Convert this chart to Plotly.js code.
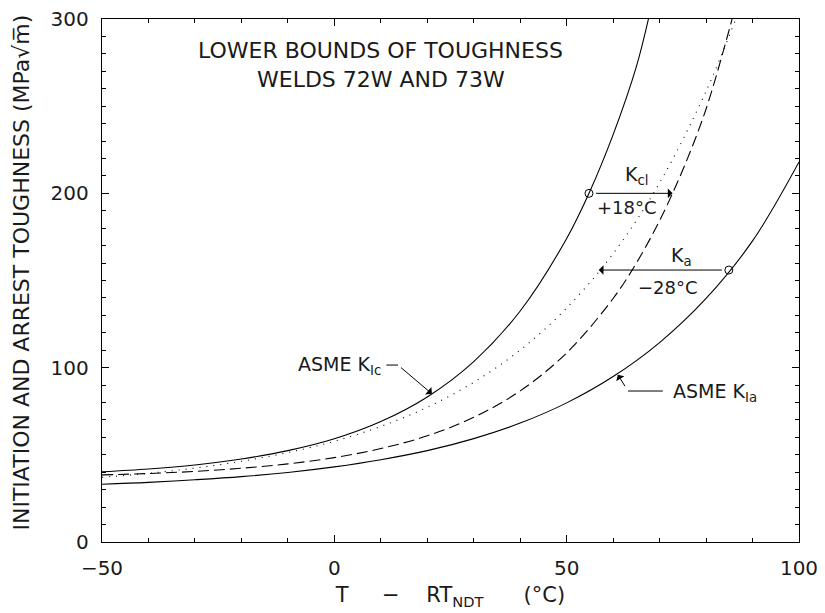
<!DOCTYPE html>
<html>
<head>
<meta charset="utf-8">
<script src="https://cdn.plot.ly/plotly-3.0.1.min.js"></script>
<style>html,body{margin:0;padding:0;background:#fff;}#chart{width:825px;height:613px;}</style>
</head>
<body>
<div id="chart"></div>
<script>
// ASME K_Ic (upper solid)
const kIcT = [-50, -40, -30, -20, -10, 0, 10, 20, 30, 40, 50, 55, 60, 65, 67.6];
const kIcV = [40.3, 41.9, 44.2, 47.6, 52.4, 59.2, 69.1, 83.2, 103.5, 132.5, 174.1, 201.2, 233.7, 272.7, 300];
// Lower bound K_cl, welds 72W/73W (dashed)
const kclT = [-50, -40, -30, -20, -10, 0, 10, 20, 30, 40, 50, 60, 65, 70, 75, 80, 85.6];
const kclV = [38.5, 39.3, 40.5, 42.3, 44.8, 48.4, 53.6, 60.9, 71.5, 86.7, 108.5, 139.7, 160.0, 184.4, 213.5, 248.4, 300];
// Lower bound K_a, welds 72W/73W (dotted)
const kaT = [-50, -40, -30, -20, -10, 0, 10, 20, 30, 40, 50, 60, 70, 80, 86.4];
const kaV = [37.1, 39.4, 42.4, 46.3, 51.3, 57.8, 66.3, 77.3, 91.6, 110.1, 134.2, 165.4, 206.0, 258.6, 300];
// ASME K_Ia (lower solid)
const kIaT = [-50, -40, -30, -20, -10, 0, 10, 20, 30, 40, 50, 60, 70, 80, 90, 100];
const kIaV = [33.1, 34.2, 35.7, 37.5, 39.9, 43.1, 47.2, 52.4, 59.3, 68.2, 79.8, 94.9, 114.4, 139.7, 172.7, 218];
// Shift points (open circles) and temperature shifts
const shiftT = [54.8, 84.9];
const shiftV = [200, 156];
const shiftDT = [18, -28];
const shiftLabels = ['+18°C', '\u221228°C'];
const shiftNames = ['K<sub>cl</sub>', 'K<sub>a</sub>'];
// Axis ticks
const xTicks = [-50, 0, 50, 100];
const yTicks = [0, 100, 200, 300];

const FONT = 'DejaVu Sans';
const INK = '#1a1a1a';
const NB = n => '\u00A0'.repeat(n);

const line = (x, y, dash) => ({
  x: x, y: y, type: 'scatter', mode: 'lines',
  line: {color: '#000', width: 1.1, shape: 'spline', smoothing: 1, dash: dash},
  hoverinfo: 'skip', showlegend: false
});

const traces = [
  line(kIcT, kIcV, 'solid'),
  line(kclT, kclV, '11px,5px'),
  line(kaT, kaV, '1px,6px'),
  line(kIaT, kIaV, 'solid'),
  {x: shiftT, y: shiftV, type: 'scatter', mode: 'markers',
   marker: {symbol: 'circle-open', size: 8, color: '#000', line: {width: 1}},
   hoverinfo: 'skip', showlegend: false}
];

const annotations = [];
const shapes = [];
const txt = (x, y, text, size, extra) => Object.assign({
  x: x, y: y, xref: 'x', yref: 'y', text: text, showarrow: false,
  font: {family: FONT, size: size, color: INK}, xanchor: 'center', yanchor: 'middle'
}, extra || {});

annotations.push(txt(10, 282, 'LOWER BOUNDS OF TOUGHNESS', 22));
annotations.push(txt(10, 265.5, 'WELDS 72W AND 73W', 22));

// shift arrows
for (let i = 0; i < shiftT.length; i++) {
  annotations.push({
    x: shiftT[i] + shiftDT[i], y: shiftV[i], xref: 'x', yref: 'y',
    ax: shiftT[i], ay: shiftV[i], axref: 'x', ayref: 'y',
    text: ' ', showarrow: true, arrowhead: 1, arrowsize: 1.6, arrowwidth: 1,
    arrowcolor: '#000', startstandoff: 4
  });
}
annotations.push(txt(65.1, 210, shiftNames[0], 19));
annotations.push(txt(63.0, 192, shiftLabels[0], 18));
annotations.push(txt(74.8, 163.5, shiftNames[1], 19));
annotations.push(txt(71.8, 146, shiftLabels[1], 18));

// ASME K_Ic label with leader
annotations.push(txt(10.5, 101.5, 'ASME K<sub>Ic</sub>', 19, {xanchor: 'right'}));
shapes.push({type: 'line', xref: 'x', yref: 'y', x0: 11.2, x1: 13.7, y0: 101.5, y1: 101.5, line: {color: '#000', width: 1}});
annotations.push({x: 21, y: 85, xref: 'x', yref: 'y', ax: 13.7, ay: 101.5, axref: 'x', ayref: 'y',
  text: ' ', showarrow: true, arrowhead: 1, arrowsize: 1.6, arrowwidth: 1, arrowcolor: '#000'});

// ASME K_Ia label with leader
annotations.push(txt(72.5, 86, 'ASME K<sub>Ia</sub>', 19, {xanchor: 'left'}));
shapes.push({type: 'line', xref: 'x', yref: 'y', x0: 63.2, x1: 70.7, y0: 86.6, y1: 86.6, line: {color: '#000', width: 1}});
annotations.push({x: 61.0, y: 96, xref: 'x', yref: 'y', ax: 63.2, ay: 86.6, axref: 'x', ayref: 'y',
  text: ' ', showarrow: true, arrowhead: 1, arrowsize: 1.6, arrowwidth: 1, arrowcolor: '#000'});

// y-axis title
annotations.push({
  xref: 'paper', yref: 'paper', x: -0.115, y: 0.515, textangle: -90,
  text: 'INITIATION AND ARREST TOUGHNESS (MPa\u221Am\u0305)', showarrow: false,
  font: {family: FONT, size: 22, color: INK}, xanchor: 'center', yanchor: 'middle'
});

const axisCommon = {
  showline: true, linecolor: '#000', linewidth: 1.2, mirror: 'ticks',
  ticks: 'inside', ticklen: 7, tickwidth: 1, tickcolor: '#000',
  showgrid: false, zeroline: false, fixedrange: true,
  tickfont: {family: FONT, size: 20, color: INK},
  ticklabelstandoff: 8,
  minor: {ticks: 'inside', ticklen: 4, tickwidth: 1, tickcolor: '#000', dtick: 10, showgrid: false}
};

const layout = {
  width: 825, height: 613,
  margin: {l: 102, r: 26, t: 19, b: 71},
  paper_bgcolor: '#fff', plot_bgcolor: '#fff',
  showlegend: false,
  xaxis: Object.assign({}, axisCommon, {
    range: [-50, 100], tickvals: xTicks, ticktext: xTicks.map(v => v < 0 ? '\u2212' + Math.abs(v) : String(v)),
    title: {text: 'T' + NB(5) + '\u2212' + NB(4) + 'RT<sub>NDT</sub>' + NB(6) + '(°C)' + NB(4), standoff: 8,
      font: {family: FONT, size: 21, color: INK}}
  }),
  yaxis: Object.assign({}, axisCommon, {
    range: [0, 300], tickvals: yTicks, ticktext: yTicks.map(String)
  }),
  annotations: annotations,
  shapes: shapes
};

Plotly.newPlot('chart', traces, layout, {displayModeBar: false, staticPlot: true});
</script>
</body>
</html>
